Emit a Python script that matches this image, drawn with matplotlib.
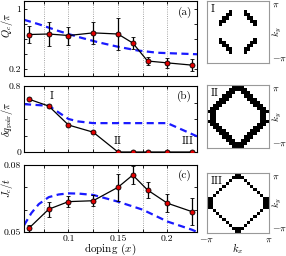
import numpy as np
import matplotlib
matplotlib.use('Agg')
import matplotlib.pyplot as plt

plt.rcParams.update({
    'font.family': 'serif',
    'font.serif': ['cmr10', 'DejaVu Serif'],
    'mathtext.fontset': 'cm',
    'axes.formatter.use_mathtext': True,
    'font.size': 7,
})

# measured points
doping = [0.06, 0.08, 0.10, 0.125, 0.15, 0.165, 0.18, 0.20, 0.225]
qc = [0.653, 0.66, 0.64, 0.675, 0.66, 0.54, 0.30, 0.275, 0.245]
qc_err = [0.11, 0.16, 0.12, 0.15, 0.21, 0.085, 0.05, 0.065, 0.08]
dq_pair = [0.64, 0.557, 0.327, 0.24, 0.0, 0.0, 0.0, 0.0, 0.0]
jc = [0.0517, 0.0602, 0.0636, 0.064, 0.070, 0.0755, 0.0688, 0.0629, 0.0591]
jc_err = [0.0015, 0.0034, 0.0025, 0.0025, 0.006, 0.004, 0.0036, 0.004, 0.0061]

# blue dashed curves
qc_th_x = [0.055, 0.07, 0.09, 0.11, 0.13, 0.15, 0.17, 0.19, 0.21, 0.23]
qc_th = [0.85, 0.79, 0.70, 0.62, 0.55, 0.49, 0.44, 0.41, 0.40, 0.39]
dq_th_x = [0.055, 0.08, 0.09, 0.10, 0.11, 0.125, 0.15, 0.175, 0.20, 0.2225, 0.23]
dq_th = [0.58, 0.56, 0.48, 0.40, 0.37, 0.35, 0.35, 0.35, 0.35, 0.23, 0.19]
jc_th_x = [0.055, 0.0625, 0.07, 0.08, 0.09, 0.10, 0.11, 0.125, 0.15, 0.175, 0.20, 0.225, 0.23]
jc_th = [0.053, 0.0585, 0.0625, 0.0656, 0.0668, 0.0673, 0.0672, 0.0666, 0.0636,
         0.0600, 0.0547, 0.051, 0.050]

# pairing patterns in k-space (# = black cell)
pattern_I = [
    "....................",
    "....................",
    "....................",
    ".......#....#.......",
    "......##....##......",
    ".....##......##.....",
    "....##........##....",
    "....#..........#....",
    "....................",
    "....................",
    "....................",
    "....................",
    "....#..........#....",
    "....##........##....",
    ".....##......##.....",
    "......##....##......",
    ".......#....#.......",
    "....................",
    "....................",
    "....................",
]
pattern_II = [
    "........####........",
    ".......######.......",
    "......###..###......",
    ".....###....###.....",
    "....###......###....",
    "...###........###...",
    "..###..........###..",
    ".###............###.",
    "###..............###",
    ".##..............##.",
    ".##..............##.",
    "###..............###",
    ".###............###.",
    "..###..........###..",
    "...###........###...",
    "....###......###....",
    ".....###....###.....",
    "......###..###......",
    ".......######.......",
    "........####........",
]
pattern_III = [
    ".........##.........",
    "........####........",
    ".......#....#.......",
    "......#......#......",
    ".....#........#.....",
    "....#..........#....",
    "...#............#...",
    "..#..............#..",
    "##................##",
    "##................##",
    "##................##",
    "##................##",
    "..#..............#..",
    "...#............#...",
    "....#..........#....",
    ".....#........#.....",
    "......#......#......",
    ".......#....#.......",
    "........####........",
    ".........##.........",
]

W, H = 286, 256
fig = plt.figure(figsize=(W / 100, H / 100), dpi=100)


def px_axes(x0, y0, x1, y1):
    return fig.add_axes([x0 / W, 1 - y1 / H, (x1 - x0) / W, (y1 - y0) / H])


def style_main(ax, ylim, yticks, ylabels, ylabel, label_y, tag):
    ax.set_xlim(0.055, 0.23)
    ax.set_ylim(*ylim)
    ax.set_xticks([0.1, 0.15, 0.2])
    ax.set_xticks([0.075, 0.125, 0.175], minor=True)
    ax.set_yticks(yticks)
    ax.set_yticklabels(ylabels)
    ax.tick_params(which='both', direction='in', top=True, right=True,
                   length=2.5, width=0.6, labelsize=7, pad=2)
    ax.grid(True, axis='x', which='both', linestyle=':', color='#888888', linewidth=0.6)
    ax.set_ylabel(ylabel, fontsize=7.5)
    ax.yaxis.set_label_coords(-0.052, label_y)
    for s in ax.spines.values():
        s.set_linewidth(0.8)
    ax.text(0.97, 0.93, tag, transform=ax.transAxes, ha='right', va='top', fontsize=8)


def plot_series(ax, x, y, err, tx, ty):
    ax.plot(tx, ty, color='#1a1aff', lw=1.6, dashes=(3.2, 2.0), zorder=2)
    ax.errorbar(x, y, yerr=err, color='black', lw=0.9, elinewidth=0.9, capsize=1.6,
                capthick=0.8, marker='o', ms=3.6, mfc='#e00000', mec='black',
                mew=0.6, zorder=3)


ax_a = px_axes(24, 1, 197, 76)
style_main(ax_a, (0.1, 1.1), [0.2, 0.4, 0.6, 0.8, 1.0], ['0.2', '', '', '', '1'],
           r'$Q_c/\pi$', 0.68, '(a)')
plot_series(ax_a, doping, qc, qc_err, qc_th_x, qc_th)
ax_a.set_xticklabels([])

ax_b = px_axes(24, 86, 197, 152)
style_main(ax_b, (0, 0.8), [0, 0.2, 0.4, 0.6, 0.8], ['0', '', '', '', '0.8'],
           r'$\delta q_{\rm pair}/\pi$', 0.5, '(b)')
plot_series(ax_b, doping, dq_pair, None, dq_th_x, dq_th)
ax_b.set_xticklabels([])
ax_b.text(0.083, 0.68, 'I', fontsize=8, ha='center', va='center')
ax_b.text(0.15, 0.125, 'II', fontsize=8, ha='center', va='center')
ax_b.text(0.221, 0.125, 'III', fontsize=8, ha='center', va='center')

ax_c = px_axes(24, 165, 197, 232)
style_main(ax_c, (0.05, 0.08), [0.05, 0.06, 0.07, 0.08], ['0.05', '', '', '0.08'],
           r'$J_c/t$', 0.66, '(c)')
plot_series(ax_c, doping, jc, jc_err, jc_th_x, jc_th)
ax_c.set_xticklabels(['0.1', '0.15', '0.2'])
ax_c.set_xlabel(r'doping $(x)$', fontsize=8, labelpad=-1)


def k_panel(x0, y0, x1, y1, rows, tag, bottom=False):
    ax = px_axes(x0, y0, x1, y1)
    img = np.array([[1.0 if c == '#' else 0.0 for c in r] for r in rows])
    ax.imshow(img, cmap='gray_r', vmin=0, vmax=1, interpolation='nearest',
              extent=(-np.pi, np.pi, -np.pi, np.pi), aspect='auto')
    ax.yaxis.tick_right()
    ax.yaxis.set_label_position('right')
    ax.set_yticks([-np.pi, np.pi])
    ax.set_yticklabels([r'$-\pi$', r'$\pi$'])
    lo, hi = ax.get_yticklabels()
    lo.set_va('bottom')
    hi.set_va('top')
    ax.set_ylabel(r'$k_y$', fontsize=7)
    ax.yaxis.set_label_coords(1.035, 0.5)
    ax.tick_params(length=0, labelsize=7, pad=2)
    if bottom:
        ax.set_xticks([-np.pi, np.pi])
        ax.set_xticklabels([r'$-\pi$', r'$\pi$'])
        ax.set_xlabel(r'$k_x$', fontsize=7.5, labelpad=-2)
    else:
        ax.set_xticks([])
    for s in ax.spines.values():
        s.set_color('#999999')
        s.set_linewidth(0.8)
    ax.text(0.06, 0.95, tag, transform=ax.transAxes, ha='left', va='top', fontsize=8)


k_panel(207, 1, 269, 63, pattern_I, 'I')
k_panel(207, 85, 269, 148, pattern_II, 'II')
k_panel(207, 173, 269, 233, pattern_III, 'III', bottom=True)

fig.savefig('out.png', dpi=100)
